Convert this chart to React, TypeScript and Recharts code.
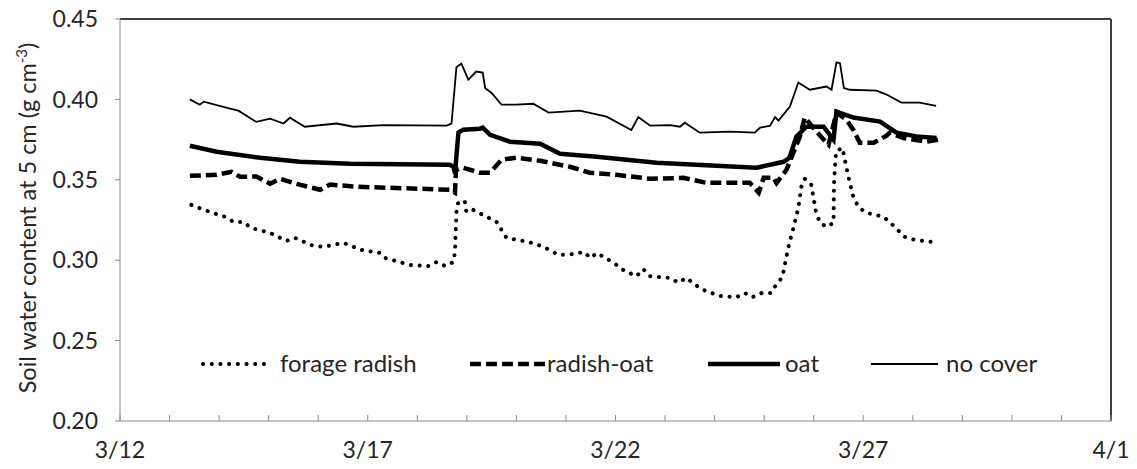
import React from 'react';
import { LineChart, Line, XAxis, YAxis, ReferenceLine } from 'recharts';

// x = days since 3/12 00:00
const radishDays = [1.44,1.75,2.12,2.29,2.49,2.65,3.03,3.36,3.53,3.90,4.11,4.51,4.87,5.25,5.35,5.85,6.23,6.39,6.56,6.73,6.76,6.79,6.83,6.96,6.99,7.13,7.44,7.60,7.80,8.24,8.55,8.85,9.18,9.36,9.50,9.62,9.97,10.12,10.42,10.56,10.70,11.10,11.27,11.43,11.73,12.11,12.44,12.61,12.76,12.95,13.14,13.24,13.37,13.49,13.59,13.69,13.75,13.82,13.95,14.05,14.13,14.26,14.40,14.41,14.45,14.58,14.70,14.80,14.90,15.06,15.41,15.57,15.84,16.04,16.38];
const radishValues = [0.3344,0.3307,0.327,0.3238,0.3238,0.320,0.317,0.312,0.3139,0.3089,0.3083,0.3108,0.3064,0.3045,0.3014,0.2970,0.2964,0.2989,0.2964,0.2989,0.3052,0.330,0.3366,0.3363,0.330,0.3313,0.3264,0.3238,0.3139,0.3114,0.3083,0.3033,0.3039,0.3052,0.3014,0.3045,0.2983,0.2945,0.290,0.2945,0.290,0.289,0.286,0.289,0.282,0.2777,0.277,0.2796,0.277,0.2796,0.2796,0.2846,0.2896,0.3083,0.320,0.3326,0.3456,0.3506,0.347,0.3294,0.3232,0.3207,0.3232,0.348,0.3676,0.3699,0.3519,0.3394,0.3332,0.3295,0.327,0.3226,0.3145,0.3126,0.3114];

const radishOatDays = [1.41,1.95,2.25,2.42,2.75,3.03,3.23,3.56,4.04,4.24,4.77,6.66,6.76,6.78,6.93,7.26,7.47,7.70,8.00,8.48,9.08,9.48,10.02,10.70,11.37,11.84,12.71,12.89,12.99,13.19,13.25,13.45,13.72,13.82,13.99,14.20,14.30,14.46,14.66,14.80,14.93,15.21,15.47,15.54,15.81,16.28,16.52];
const radishOatValues = [0.3525,0.3531,0.355,0.3519,0.352,0.3475,0.3506,0.3475,0.3438,0.347,0.3457,0.3438,0.342,0.356,0.3575,0.3544,0.3544,0.3625,0.3637,0.3618,0.3581,0.3544,0.3531,0.3506,0.3512,0.3481,0.3481,0.342,0.3512,0.3512,0.348,0.3562,0.3768,0.3887,0.3824,0.375,0.3718,0.3918,0.3874,0.381,0.373,0.373,0.3774,0.3793,0.376,0.3737,0.375];

const oatDays = [1.41,1.95,2.83,3.63,4.64,6.66,6.73,6.76,6.83,6.93,7.26,7.32,7.47,7.87,8.48,8.88,9.62,10.83,11.63,12.85,13.39,13.51,13.65,13.85,14.20,14.40,14.46,14.80,15.34,15.67,16.07,16.48];
const oatValues = [0.3712,0.3675,0.3637,0.3612,0.360,0.3593,0.358,0.354,0.3793,0.3812,0.3818,0.3825,0.378,0.3737,0.3724,0.3662,0.3643,0.3606,0.3593,0.3575,0.3612,0.3637,0.3768,0.383,0.383,0.375,0.3924,0.3887,0.3862,0.3793,0.377,0.376];

const noCoverDays = [1.41,1.61,1.69,2.22,2.39,2.75,3.03,3.30,3.43,3.73,4.37,4.71,5.32,6.59,6.69,6.79,6.89,7.03,7.19,7.32,7.37,7.50,7.70,8.00,8.34,8.65,9.28,9.82,10.32,10.46,10.70,11.10,11.30,11.40,11.70,12.31,12.81,12.92,13.12,13.22,13.29,13.52,13.69,13.92,14.26,14.36,14.46,14.53,14.61,14.73,15.27,15.47,15.77,16.14,16.47];
const noCoverValues = [0.400,0.3967,0.3986,0.3942,0.393,0.386,0.388,0.385,0.3886,0.383,0.385,0.383,0.384,0.3837,0.385,0.420,0.4223,0.4123,0.4173,0.4167,0.407,0.404,0.3967,0.3967,0.3973,0.3918,0.393,0.3893,0.381,0.389,0.3837,0.384,0.383,0.3855,0.3793,0.380,0.3793,0.3824,0.3837,0.389,0.3868,0.3955,0.4105,0.406,0.408,0.406,0.423,0.4225,0.407,0.406,0.4054,0.403,0.398,0.398,0.396];

const seriesNames = ['forage radish', 'radish-oat', 'oat', 'no cover'];
const xTicks = [0,1,2,3,4,5,6,7,8,9,10,11,12,13,14,15,16,17,18,19,20];
const xTickLabels: Record<number, string> = { 0: '3/12', 5: '3/17', 10: '3/22', 15: '3/27', 20: '4/1' };
const yTicks = [0.2, 0.25, 0.3, 0.35, 0.4, 0.45];

const zip = (d: number[], v: number[]) => d.map((x, i) => ({ d: x, v: v[i] }));
const radishData = zip(radishDays, radishValues);
const radishOatData = zip(radishOatDays, radishOatValues);
const oatData = zip(oatDays, oatValues);
const noCoverData = zip(noCoverDays, noCoverValues);

const FONT = 'Lato, "Open Sans", sans-serif';
const TEXT = '#262626';
const AXIS = '#8a8a8a';

const styles = [
  { stroke: '#000', strokeWidth: 4, strokeDasharray: '0.1 8.6', strokeLinecap: 'round' as const },
  { stroke: '#000', strokeWidth: 4.5, strokeDasharray: '11 5', strokeLinecap: 'butt' as const },
  { stroke: '#000', strokeWidth: 4.5, strokeDasharray: undefined, strokeLinecap: 'butt' as const },
  { stroke: '#000', strokeWidth: 1.8, strokeDasharray: undefined, strokeLinecap: 'butt' as const },
];

const legendLayout = [
  { x1: 203, x2: 268, tx: 280 },
  { x1: 470, x2: 545, tx: 547 },
  { x1: 708, x2: 780, tx: 785 },
  { x1: 871, x2: 938, tx: 946 },
];

const XTick = (props: any) => {
  const { x, y, payload } = props;
  const label = xTickLabels[payload.value];
  return (
    <g>
      <line x1={x} x2={x} y1={y} y2={y - 6} stroke={AXIS} strokeWidth={1} />
      {label !== undefined && (
        <text x={x} y={y + 37} textAnchor="middle" fill={TEXT} fontSize={23} fontFamily={FONT}>
          {label}
        </text>
      )}
    </g>
  );
};

const LegendLayer = () => (
  <g>
    {seriesNames.map((name, i) => {
      const L = legendLayout[i];
      const s = styles[i];
      return (
        <g key={name}>
          <line x1={L.x1} x2={L.x2} y1={364} y2={364} stroke={s.stroke} strokeWidth={s.strokeWidth}
            strokeDasharray={s.strokeDasharray} strokeLinecap={s.strokeLinecap} />
          <text x={L.tx} y={372} fill={TEXT} fontSize={24} fontFamily={FONT}>{name}</text>
        </g>
      );
    })}
  </g>
);

const YLabel = () => (
  <text transform="translate(36,218) rotate(-90)" textAnchor="middle" fill={TEXT} fontSize={23.5} fontFamily={FONT}>
    Soil water content at 5 cm (g cm
    <tspan fontSize={15} dy={-9}>-3</tspan>
    <tspan dy={9}>)</tspan>
  </text>
);

export default function App() {
  return (
    <div style={{ position: 'absolute', left: 0, top: 0, width: 1137, height: 469, background: '#fff' }}>
      <LineChart width={1137} height={469} margin={{ top: 19, right: 26, left: 0, bottom: 0 }}>
        <XAxis dataKey="d" type="number" domain={[0, 20]} ticks={xTicks} interval={0}
          tick={<XTick />} tickLine={false} tickSize={0} tickMargin={0} height={48}
          stroke={AXIS} allowDataOverflow />
        <YAxis type="number" domain={[0.2, 0.45]} ticks={yTicks} width={120} interval={0}
          tickFormatter={(v: number) => v.toFixed(2)} tickSize={5} tickMargin={17} stroke={AXIS}
          tick={{ fill: TEXT, fontSize: 23, fontFamily: FONT }} allowDataOverflow />
        <ReferenceLine y={0.45} stroke="#404040" strokeWidth={2} />
        <ReferenceLine x={20} stroke="#404040" strokeWidth={2} />
        <Line data={radishData} dataKey="v" name={seriesNames[0]} type="linear" dot={false} activeDot={false}
          isAnimationActive={false} {...styles[0]} />
        <Line data={radishOatData} dataKey="v" name={seriesNames[1]} type="linear" dot={false} activeDot={false}
          isAnimationActive={false} {...styles[1]} />
        <Line data={oatData} dataKey="v" name={seriesNames[2]} type="linear" dot={false} activeDot={false}
          isAnimationActive={false} {...styles[2]} />
        <Line data={noCoverData} dataKey="v" name={seriesNames[3]} type="linear" dot={false} activeDot={false}
          isAnimationActive={false} {...styles[3]} />
        <LegendLayer />
        <YLabel />
      </LineChart>
    </div>
  );
}
